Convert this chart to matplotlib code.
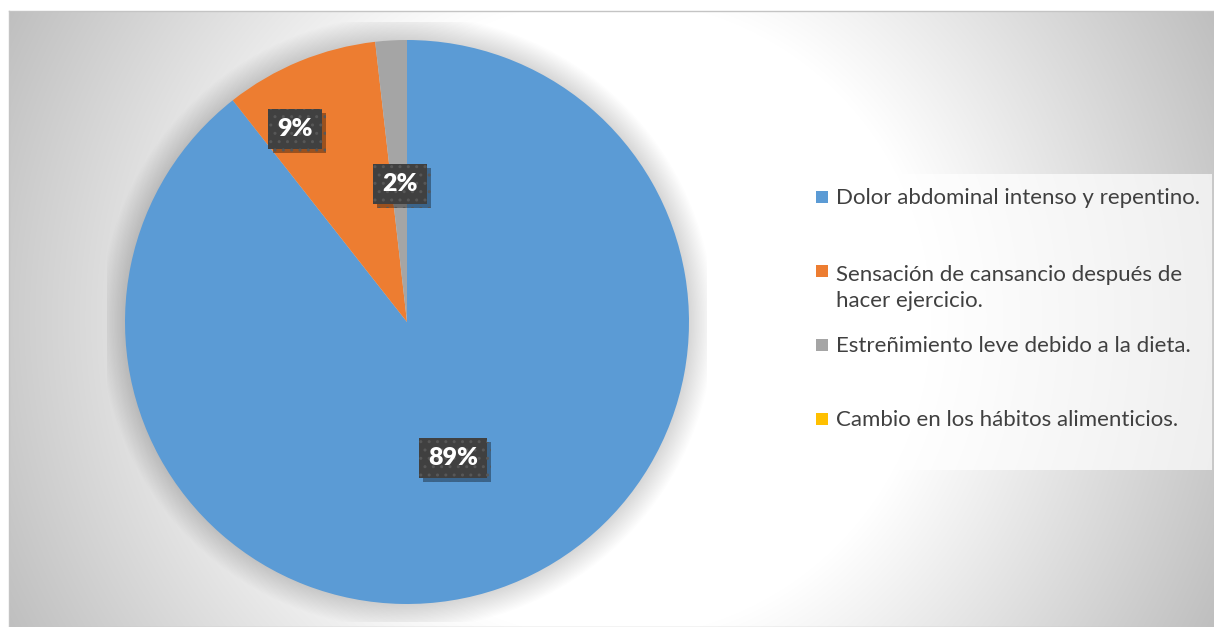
import numpy as np
import matplotlib
matplotlib.use('Agg')
import matplotlib.pyplot as plt
from matplotlib.patches import Rectangle, Circle
import matplotlib.patheffects as pe

# Data
categories = [
    'Dolor abdominal intenso y repentino.',
    'Sensación de cansancio después de\nhacer ejercicio.',
    'Estreñimiento leve debido a la dieta.',
    'Cambio en los hábitos alimenticios.',
]
values = [89.4, 8.8, 1.8, 0.0]
colors = ['#5B9BD5', '#ED7D31', '#A5A5A5', '#FFC000']

# where Excel put the percentage boxes (fraction of radius, extra turn in degrees)
label_dist = [0.51, 0.79, 0.49, 0.0]
label_turn = [-0.5, 7.8, -0.3, 0.0]

W, H = 1214, 627
FONT = 'Lato'


def fx(x):
    return x / W


def fy(y):
    # y measured from the top of the image, like in the reference
    return 1 - y / H


fig = plt.figure(figsize=(W / 100, H / 100), dpi=100)

# chart area with the radial grey gradient
bg = fig.add_axes([fx(9), 0, fx(W - 9), (H - 11) / H])
yy, xx = np.mgrid[11:H, 9:W] + 0.5
r = np.hypot(xx - 611, yy - 319)
shade = (255 - 0.18 * np.clip(r - 320, 0, None)) / 255
bg.imshow(np.dstack([shade] * 3), extent=(0, 1, 0, 1), aspect='auto',
          interpolation='bilinear')
bg.set_xticks([])
bg.set_yticks([])
for s in bg.spines.values():
    s.set_color('#c4c4c4')
    s.set_linewidth(1)

# pie: centre at (407, 322) px, radius 282 px
R = 282
ax = fig.add_axes([fx(407 - 300), fy(322 + 300), fx(600), 600 / H])
ax.patch.set_alpha(0)

# soft shadow around the pie
for k in range(20):
    ax.add_patch(Circle((0, 0), 1 + (k + 1) * 1.25 / R, facecolor='black',
                        edgecolor='none', alpha=0.008, zorder=0))

wedges, _ = ax.pie(values, colors=colors, startangle=90, counterclock=False,
                   radius=1, wedgeprops=dict(linewidth=0, zorder=2))
ax.set_xlim(-300 / R, 300 / R)
ax.set_ylim(-300 / R, 300 / R)
ax.axis('off')

for w, v, d, turn in zip(wedges, values, label_dist, label_turn):
    if v <= 0:
        continue
    ang = np.deg2rad((w.theta1 + w.theta2) / 2 + turn)
    t = ax.text(d * np.cos(ang), d * np.sin(ang), f'{v:.0f}%',
                ha='center', va='center', color='white', fontsize=18,
                fontweight='heavy', family=FONT, zorder=5,
                bbox=dict(boxstyle='square,pad=0.36', facecolor='#404040',
                          edgecolor='#575757', linewidth=0, hatch='..'))
    t.get_bbox_patch().set_path_effects([
        pe.SimplePatchShadow(offset=(3, -3), shadow_rgbFace='black', alpha=0.35),
        pe.Normal()])

# legend box drawn the way Excel lays it out
fig.patches.append(Rectangle((fx(804), fy(470)), fx(408), (470 - 174) / H,
                             transform=fig.transFigure, facecolor='white',
                             alpha=0.7, edgecolor='none', zorder=3))
line_h = 29
for i, (lab, c) in enumerate(zip(categories, colors)):
    yc = 197 + 74 * i
    n_lines = lab.count('\n')
    fig.patches.append(Rectangle((fx(816), fy(yc + 6)), fx(12), 12 / H,
                                 transform=fig.transFigure, facecolor=c,
                                 edgecolor='none', zorder=4))
    # matplotlib puts the baseline of the last line at y
    fig.text(fx(836), fy(yc + 7.5 + n_lines * line_h), lab, ha='left',
             va='baseline', fontsize=16, color='#404040', family=FONT,
             linespacing=1.4, zorder=5)

fig.savefig('out.png', dpi=100)
